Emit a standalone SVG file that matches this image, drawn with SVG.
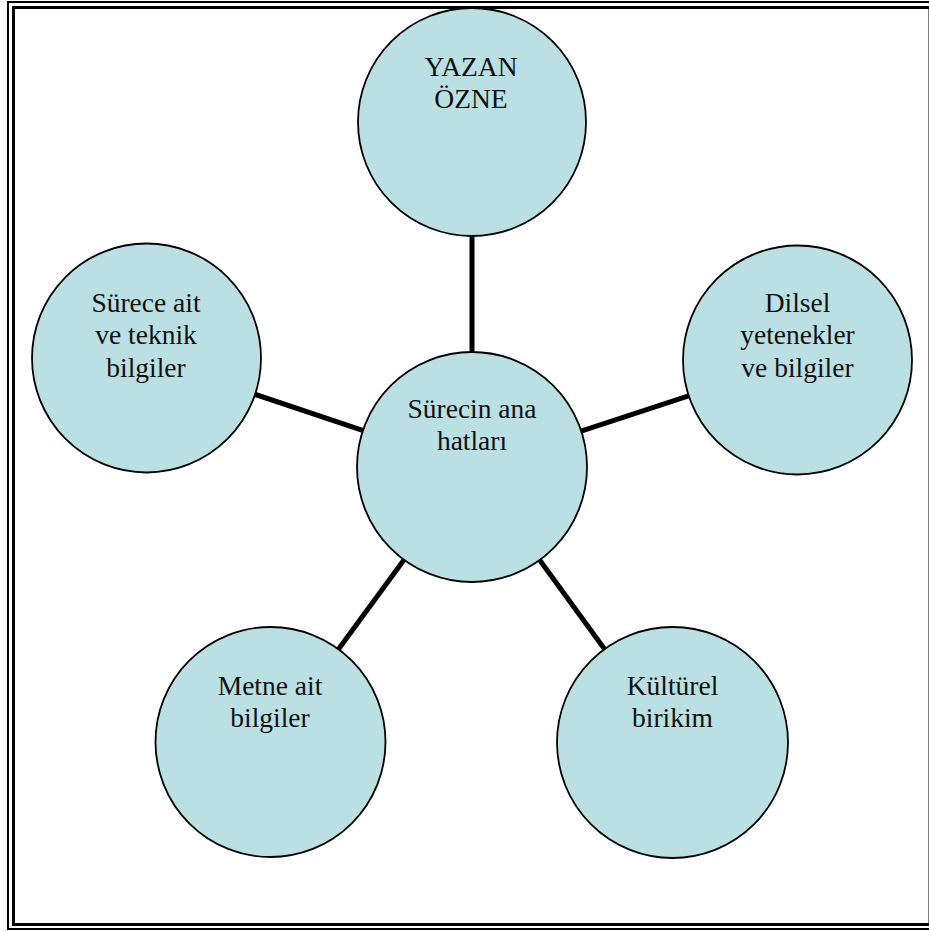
<svg xmlns="http://www.w3.org/2000/svg" width="929" height="931" viewBox="0 0 929 931">
<style>
.frame{fill:none;stroke:#000}
.node{fill:#BBE0E3;stroke:#000;stroke-width:1.8}
.edge{stroke:#000;stroke-width:5;fill:none}
.lbl{font-family:"Liberation Serif","Times New Roman",serif;font-size:27.5px;fill:#111;text-anchor:middle}
</style>
<rect width="929" height="931" fill="#fff"/>
<g id="frame">
<rect class="frame" x="8" y="2" width="926" height="927" stroke-width="2"/>
<rect class="frame" x="13.5" y="7.5" width="916.5" height="917" stroke-width="3"/>
</g>
<g id="connectors">
<line class="edge" x1="472" y1="467" x2="472" y2="122"/>
<line class="edge" x1="472" y1="467" x2="146.5" y2="358"/>
<line class="edge" x1="472" y1="467" x2="797.5" y2="360"/>
<line class="edge" x1="472" y1="467" x2="270.5" y2="742"/>
<line class="edge" x1="472" y1="467" x2="672.5" y2="742.5"/>
</g>
<g id="node-yazan">
<circle class="node" cx="472" cy="122" r="114"/>
<text class="lbl" x="471" y="76">YAZAN</text>
<text class="lbl" x="471" y="108">ÖZNE</text>
</g>
<g id="node-center">
<circle class="node" cx="472" cy="467" r="115"/>
<text class="lbl" x="472" y="418">Sürecin ana</text>
<text class="lbl" x="472" y="450">hatları</text>
</g>
<g id="node-surece">
<circle class="node" cx="146.5" cy="358" r="114.5"/>
<text class="lbl" x="146" y="311.7">Sürece ait</text>
<text class="lbl" x="146" y="344.3">ve teknik</text>
<text class="lbl" x="146" y="376.7">bilgiler</text>
</g>
<g id="node-dilsel">
<circle class="node" cx="797.5" cy="360" r="114.5"/>
<text class="lbl" x="797.5" y="311.7">Dilsel</text>
<text class="lbl" x="797.5" y="344.3">yetenekler</text>
<text class="lbl" x="797.5" y="376.7">ve bilgiler</text>
</g>
<g id="node-metne">
<circle class="node" cx="270.5" cy="742" r="115"/>
<text class="lbl" x="270" y="695">Metne ait</text>
<text class="lbl" x="270" y="727.3">bilgiler</text>
</g>
<g id="node-kulturel">
<circle class="node" cx="672.5" cy="742.5" r="115.5"/>
<text class="lbl" x="672.5" y="695">Kültürel</text>
<text class="lbl" x="672.5" y="727.3">birikim</text>
</g>
</svg>
